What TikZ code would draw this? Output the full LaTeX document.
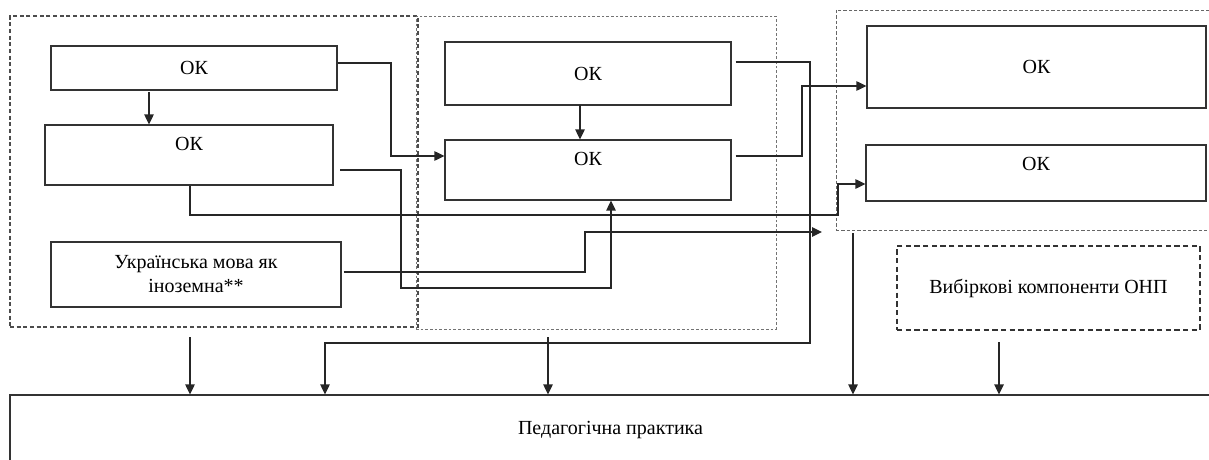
\documentclass[tikz,border=0pt]{standalone}
\usepackage{fontspec}
\setmainfont{Liberation Serif}
\usetikzlibrary{arrows.meta,fit}
\begin{document}
\begin{tikzpicture}[x=0.75pt,y=-0.75pt,
  font=\fontsize{15}{18}\selectfont,
  box/.style={draw=black!80, line width=0.8pt, inner sep=0pt},
  grpa/.style={draw=black!70, line width=0.8pt, dash pattern=on 3pt off 2pt, inner sep=0pt},
  grpb/.style={draw=black!55, line width=0.7pt, dash pattern=on 2pt off 1.5pt, inner sep=0pt},
  grpc/.style={draw=black!60, line width=0.7pt, dash pattern=on 2.5pt off 1.5pt, inner sep=0pt},
  optbox/.style={draw=black!80, line width=1.1pt, dash pattern=on 4pt off 2.5pt, inner sep=0pt},
  conn/.style={draw=black!85, line width=1.1pt},
  arr/.style={conn, -{Triangle[length=7.5pt,width=7pt]}},
  lab/.style={label={[anchor=center,align=center,inner sep=0pt]center:#1}},
  toplabel/.style={label={[anchor=center,yshift=-15pt]north:#1}}
]
\useasboundingbox (0,0) rectangle (1209,460);
\begin{scope}
\clip (0,0) rectangle (1209,460);
% groups
\node[grpa, fit={(10,16) (418,327)}] (G1) {};
\node[grpb, fit={(416,16) (776,329)}] (G2) {};
\node[grpc, fit={(836,10) (1214,230)}] (G3) {};
% boxes
\node[box, fit={(51,46) (337,90)}, lab=ОК] (A1) {};
\node[box, fit={(45,125) (333,185)}, toplabel=ОК] (A2) {};
\node[box, fit={(51,242) (341,307)}, lab={Українська мова як\\іноземна**}] (A3) {};
\node[box, fit={(445,42) (731,105)}, lab=ОК] (B1) {};
\node[box, fit={(445,140) (731,200)}, toplabel=ОК] (B2) {};
\node[box, fit={(867,26) (1206,108)}, lab=ОК] (C1) {};
\node[box, fit={(866,145) (1206,201)}, toplabel=ОК] (C2) {};
\node[optbox, fit={(897,246) (1200,330)}, lab={Вибіркові компоненти ОНП}] (D) {};
\node[box, fit={(10,395) (1211,466)}, lab={Педагогічна практика}] (E) {};
% connectors
\coordinate (a12) at (149,92);
\draw[arr] (a12) -- (a12 |- A2.north);
\coordinate (b12) at (580,105);
\draw[arr] (b12) -- (b12 |- B2.north);
\coordinate (k1) at (391,63); \coordinate (k2) at (391,156);
\draw[arr] (A1.east |- k1) -- (k1) -- (k2) -- (k2 -| B2.west);
\coordinate (k3) at (401,170); \coordinate (k4) at (401,288); \coordinate (k5) at (611,288);
\draw[arr] ([xshift=5pt]A2.east |- k3) -- (k3) -- (k4) -- (k5) -- (k5 |- B2.south);
\coordinate (k6) at (190,215); \coordinate (k7) at (838,215); \coordinate (k8) at (838,184);
\draw[arr] (A2.south -| k6) -- (k6) -- (k7) -- (k8) -- (k8 -| C2.west);
\coordinate (k9) at (585,272); \coordinate (k10) at (585,232); \coordinate (k11) at (822,232);
\draw[arr] ([xshift=1.5pt]A3.east |- k9) -- (k9) -- (k10) -- (k11);
\coordinate (k12) at (810,62); \coordinate (k13) at (810,343); \coordinate (k14) at (325,343);
\draw[arr] ([xshift=3pt]B1.east |- k12) -- (k12) -- (k13) -- (k14) -- (k14 |- E.north);
\coordinate (k15) at (802,156); \coordinate (k16) at (802,86);
\draw[arr] ([xshift=3pt]B2.east |- k15) -- (k15) -- (k16) -- (k16 -| C1.west);
\coordinate (d1) at (190,337);
\draw[arr] (d1) -- (d1 |- E.north);
\coordinate (d2) at (548,337);
\draw[arr] (d2) -- (d2 |- E.north);
\coordinate (d3) at (853,233);
\draw[arr] (d3) -- (d3 |- E.north);
\coordinate (d4) at (999,342);
\draw[arr] (d4) -- (d4 |- E.north);
\end{scope}
\end{tikzpicture}
\end{document}
